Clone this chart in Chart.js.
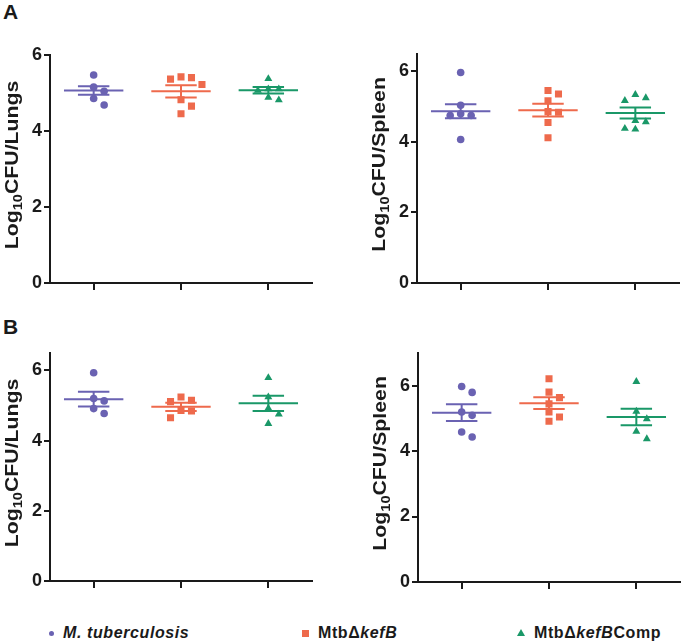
<!DOCTYPE html>
<html>
<head>
<meta charset="utf-8">
<script src="https://cdn.jsdelivr.net/npm/chart.js@4.4.0/dist/chart.umd.min.js"></script>
<style>
  body { margin: 0; background: #fff; width: 685px; height: 644px; position: relative; overflow: hidden;
         font-family: Arial, "Liberation Sans", sans-serif; color: #1a1a1a; }
  canvas { position: absolute; }
  .panelLabel { position: absolute; font-weight: bold; font-size: 21px; line-height: 21px; }
  .leg { position: absolute; top: 624px; font-weight: bold; font-size: 16px; line-height: 18px; letter-spacing: 0.6px; white-space: nowrap; }
  .mark { position: absolute; }
</style>
</head>
<body>
<div class="panelLabel" style="left:3px;top:1px">A</div>
<div class="panelLabel" style="left:3px;top:316px">B</div>

<canvas id="aLungs"></canvas>
<canvas id="aSpleen"></canvas>
<canvas id="bLungs"></canvas>
<canvas id="bSpleen"></canvas>

<div class="mark" style="left:49px;top:631px;width:5px;height:5px;border-radius:50%;background:#6a62b2"></div>
<div class="leg" style="left:63px"><i>M. tuberculosis</i></div>
<div class="mark" style="left:302px;top:630px;width:7px;height:7px;background:#ee6a4c"></div>
<div class="leg" style="left:318px">MtbΔ<i>kefB</i></div>
<div class="mark" style="left:517px;top:629px;width:0;height:0;border-left:4px solid transparent;border-right:4px solid transparent;border-bottom:7px solid #1a9868"></div>
<div class="leg" style="left:534px">MtbΔ<i>kefB</i>Comp</div>

<script>
const groupNames = ['M. tuberculosis', 'MtbΔkefB', 'MtbΔkefBComp'];
const yTicks = [0, 2, 4, 6];

// A - lungs
const aLungsTb = [5.47, 5.15, 5.04, 4.85, 4.68];
const aLungsKefB = [5.40, 5.36, 5.42, 5.22, 4.82, 4.65, 4.45];
const aLungsComp = [5.37, 5.06, 5.10, 5.10, 4.81, 4.88];
const aLungsMean = [5.06, 5.04, 5.07];
const aLungsSem = [0.11, 0.16, 0.085];

// A - spleen
const aSpleenTb = [5.97, 4.80, 4.75, 5.04, 4.75, 4.07];
const aSpleenKefB = [5.46, 5.36, 5.17, 4.84, 4.86, 4.55, 4.12];
const aSpleenComp = [5.25, 5.17, 5.34, 4.57, 4.36, 4.38, 4.60];
const aSpleenMean = [4.87, 4.90, 4.82];
const aSpleenSem = [0.20, 0.18, 0.155];

// B - lungs
const bLungsTb = [5.93, 5.20, 5.13, 4.91, 4.77];
const bLungsKefB = [5.15, 5.11, 5.24, 4.84, 4.65, 4.86];
const bLungsComp = [5.79, 5.24, 4.92, 4.75, 4.48];
const bLungsMean = [5.18, 4.96, 5.06];
const bLungsSem = [0.21, 0.12, 0.22];

// B - spleen
const bSpleenTb = [5.97, 5.79, 5.19, 5.09, 4.58, 4.43];
const bSpleenKefB = [6.21, 5.80, 5.63, 5.44, 5.19, 5.04, 4.91];
const bSpleenComp = [6.12, 5.21, 4.98, 4.60, 4.37];
const bSpleenMean = [5.17, 5.46, 5.04];
const bSpleenSem = [0.255, 0.18, 0.255];

const colors = ['#6a62b2', '#ee6a4c', '#1a9868'];
const shapes = ['circle', 'rect', 'triangle'];
const radii = [3.8, 5, 4.6];
const axisColor = '#1a1a1a';
const laneWidth = 0.12;

// spread points sideways when they would overlap (simple beeswarm)
function swarm(values, cat, minGap) {
  let order = values.map((v, i) => i).sort((a, b) => values[b] - values[a]);
  let placed = [];
  let out = new Array(values.length);
  order.forEach(i => {
    let v = values[i];
    for (let lane of [0, 1, -1, 2, -2, 3, -3]) {
      let hit = placed.some(p => p.lane === lane && Math.abs(p.v - v) < minGap);
      if (!hit) {
        placed.push({ lane, v });
        out[i] = { x: cat + lane * laneWidth, y: v };
        break;
      }
    }
  });
  return out;
}

const statsPlugin = {
  id: 'stats',
  beforeDatasetsDraw(chart, args, opts) {
    const { ctx } = chart;
    const x = chart.scales.x, y = chart.scales.y;
    ctx.save();
    ctx.lineWidth = 2;
    opts.mean.forEach((m, i) => {
      let c = i + 1;
      let s = opts.sem[i];
      ctx.strokeStyle = colors[i];
      ctx.beginPath();
      ctx.moveTo(x.getPixelForValue(c - 0.34), y.getPixelForValue(m));
      ctx.lineTo(x.getPixelForValue(c + 0.34), y.getPixelForValue(m));
      [m + s, m - s].forEach(v => {
        ctx.moveTo(x.getPixelForValue(c - 0.18), y.getPixelForValue(v));
        ctx.lineTo(x.getPixelForValue(c + 0.18), y.getPixelForValue(v));
      });
      ctx.moveTo(x.getPixelForValue(c), y.getPixelForValue(m + s));
      ctx.lineTo(x.getPixelForValue(c), y.getPixelForValue(m - s));
      ctx.stroke();
    });
    ctx.restore();
  },
  afterDraw(chart, args, opts) {
    // y axis title with subscript 10
    const { ctx, chartArea } = chart;
    const big = 'bold 19px Arial, "Liberation Sans", sans-serif';
    const small = 'bold 13px Arial, "Liberation Sans", sans-serif';
    const parts = [['Log', big, 0], ['10', small, 4], ['CFU/' + opts.organ, big, 0]];
    ctx.save();
    let total = 0;
    parts.forEach(p => { ctx.font = p[1]; total += ctx.measureText(p[0]).width; });
    ctx.translate(chartArea.left - 32, (chartArea.top + chartArea.bottom) / 2 - 4);
    ctx.rotate(-Math.PI / 2);
    ctx.scale(1.12, 1);
    ctx.fillStyle = axisColor;
    ctx.textBaseline = 'alphabetic';
    let pos = -total / 2;
    parts.forEach(p => {
      ctx.font = p[1];
      ctx.fillText(p[0], pos, p[2]);
      pos += ctx.measureText(p[0]).width;
    });
    ctx.restore();
  }
};

function makePanel(id, box, yMax, organ, tb, kefB, comp, mean, sem) {
  const yAxisW = 50, xAxisH = 14, padTop = 12, padRight = 4;
  const canvas = document.getElementById(id);
  canvas.width = box.right - box.left + yAxisW + padRight;
  canvas.height = box.bottom - box.top + padTop + xAxisH;
  canvas.style.left = (box.left - yAxisW) + 'px';
  canvas.style.top = (box.top - padTop) + 'px';

  const pxPerUnit = (box.bottom - box.top) / yMax;
  const minGap = 8 / pxPerUnit;
  const series = [tb, kefB, comp];

  return new Chart(canvas, {
    type: 'scatter',
    data: {
      datasets: series.map((vals, i) => ({
        label: groupNames[i],
        data: swarm(vals, i + 1, minGap),
        pointStyle: shapes[i],
        pointRadius: radii[i],
        pointHoverRadius: radii[i],
        backgroundColor: colors[i],
        borderColor: colors[i],
        borderWidth: 0
      }))
    },
    options: {
      responsive: false,
      animation: false,
      layout: { padding: { top: padTop, right: padRight, left: 0, bottom: 0 } },
      plugins: {
        legend: { display: false },
        tooltip: { enabled: false },
        stats: { mean: mean, sem: sem, organ: organ }
      },
      scales: {
        x: {
          type: 'linear',
          min: 0.5,
          max: 3.5,
          afterBuildTicks: s => { s.ticks = [1, 2, 3].map(v => ({ value: v })); },
          afterFit: s => { s.height = xAxisH; },
          ticks: { callback: () => '' },
          grid: { display: true, drawOnChartArea: false, drawTicks: true, tickLength: 7, color: axisColor, lineWidth: 2 },
          border: { display: true, color: axisColor, width: 2 }
        },
        y: {
          min: 0,
          max: yMax,
          afterBuildTicks: s => { s.ticks = yTicks.map(v => ({ value: v })); },
          afterFit: s => { s.width = yAxisW; },
          ticks: {
            padding: 2,
            color: axisColor,
            font: { family: 'Arial, "Liberation Sans", sans-serif', size: 18, weight: 'bold' }
          },
          grid: { display: true, drawOnChartArea: false, drawTicks: true, tickLength: 6, color: axisColor, lineWidth: 2 },
          border: { display: true, color: axisColor, width: 2 }
        }
      }
    },
    plugins: [statsPlugin]
  });
}

makePanel('aLungs', { left: 50, top: 54, right: 313, bottom: 283 }, 6, 'Lungs',
  aLungsTb, aLungsKefB, aLungsComp, aLungsMean, aLungsSem);
makePanel('aSpleen', { left: 417, top: 53, right: 680, bottom: 283 }, 6.5, 'Spleen',
  aSpleenTb, aSpleenKefB, aSpleenComp, aSpleenMean, aSpleenSem);
makePanel('bLungs', { left: 50, top: 352, right: 313, bottom: 581 }, 6.5, 'Lungs',
  bLungsTb, bLungsKefB, bLungsComp, bLungsMean, bLungsSem);
makePanel('bSpleen', { left: 418, top: 352, right: 681, bottom: 582 }, 7, 'Spleen',
  bSpleenTb, bSpleenKefB, bSpleenComp, bSpleenMean, bSpleenSem);
</script>
</body>
</html>
